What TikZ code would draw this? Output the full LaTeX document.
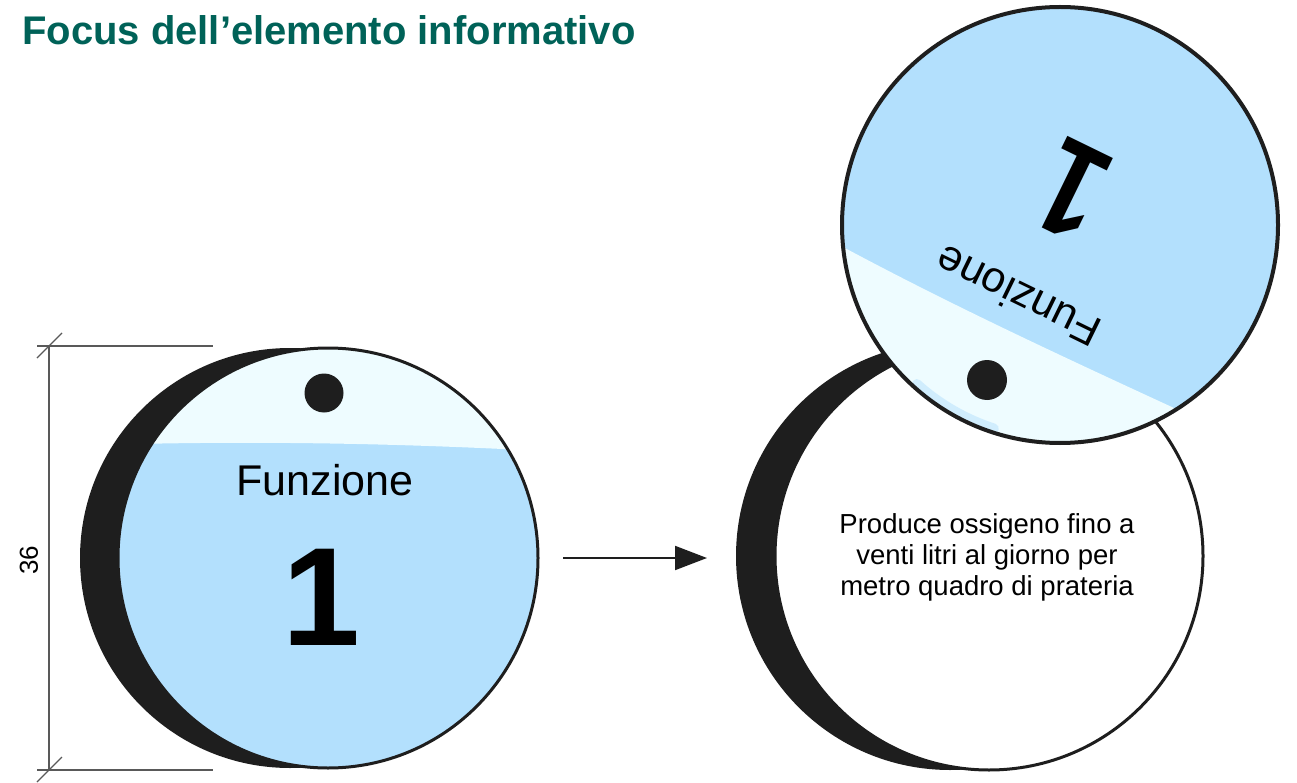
\documentclass[tikz,border=0pt]{standalone}
\usepackage{fontspec}
\setmainfont{Liberation Sans}
\usetikzlibrary{arrows.meta}
\definecolor{cardblue}{RGB}{179,224,253}
\definecolor{cardwhite}{RGB}{238,252,255}
\definecolor{rim}{RGB}{30,30,30}
\definecolor{titlegreen}{RGB}{0,98,88}

\begin{document}
\begin{tikzpicture}
[
 x=1pt, y=-1pt,
  >={Triangle[length=32pt,width=24pt]},
  rimline/.style = {draw=rim, line width=3pt},
  dimline/.style = {draw=black!65, line width=1.2pt},
  hole/.style = {fill=rim},
  txt/.style = {inner sep=0pt, font=\fontsize{#1}{31}\selectfont},
  bold/.style = {inner sep=0pt, font=\fontsize{#1}{#1}\selectfont\bfseries},
]
\useasboundingbox (0,0) rectangle (1297,783);

\node (T) at (22,45) [bold=40, anchor=base west, text=titlegreen] {Focus dell’elemento informativo};

\coordinate (D1) at (49,346);
\coordinate (D2) at (49,770);
\draw[dimline] (D1) -- (D2);
\draw[dimline] ([xshift=-12]D1) -- ([xshift=164]D1);
\draw[dimline] ([xshift=-12]D2) -- ([xshift=164]D2);
\draw[dimline] ([shift={(-12,12)}]D1) -- ([shift={(13,-13)}]D1);
\draw[dimline] ([shift={(-12,12)}]D2) -- ([shift={(13,-13)}]D2);
\node (L) at (29,560) [txt=26, rotate=90] {36};

\fill[rim] (290,558) circle (210);
\begin{scope}
\clip (328,558) circle (210);
\fill[cardblue] (100,330) rectangle (560,790);
\fill[cardwhite] (100,330) -- (560,330) -- (560,452) .. controls (420,444) and (260,440) .. (100,445) -- cycle;
\end{scope}
\draw[rimline] (328,558) circle (210);
\fill[hole] (324,393) circle (19.5);
\node (F1) at (325,495) [txt=43, anchor=base] {Funzione};
\node (N1) at (321,645) [bold=140, anchor=base] {1};

\coordinate (A) at (563,558);
\coordinate (B) at (707,558);
\draw[->, draw=rim, fill=rim, line width=2pt] (A) -- (B);

\fill[rim] (950,556) circle (214);
\draw[rimline, fill=white] (989,556) circle (214);
\node (R) at (987,557) [txt=27.5, align=center] {Produce ossigeno fino a\\venti litri al giorno per\\metro quadro di prateria};

\begin{scope}
\clip (1060,225) circle (218);
\fill[cardblue] (830,0) rectangle (1290,450);
\fill[cardwhite] (830,240) .. controls (950,305) and (1070,360) .. (1200,420) -- (1200,460) -- (830,460) -- cycle;
\draw[cardblue, line width=10pt, opacity=0.5, line cap=round] (1060,225) ++(108:214) arc (108:132:214);
\end{scope}
\draw[rimline, line width=4pt] (1060,225) circle (218);
\fill[hole] (987,380) circle (20);
\node (F2) at (1018,297) [txt=43, rotate=154] {Funzione};
\node (N2) at (1072,190) [bold=136, rotate=154, xscale=0.8] {1};

\end{tikzpicture}
\end{document}
